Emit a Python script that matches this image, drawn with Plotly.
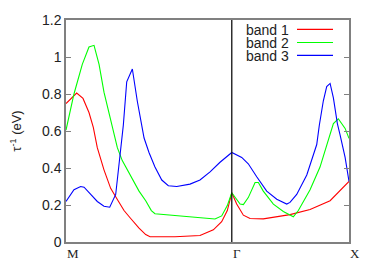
import plotly.graph_objects as go

# k-path coordinate: M=0, Gamma=sqrt(2), X=1+sqrt(2)
tick_vals = [0.0, 1.4142, 2.4142]
tick_text = ["M", "Γ", "X"]

band1_k = [0.0, 0.091, 0.145, 0.196, 0.233, 0.267, 0.324, 0.381, 0.438, 0.495, 0.552, 0.623, 0.680, 0.717,
           0.930, 1.143, 1.257, 1.328, 1.376, 1.4142, 1.456, 1.513, 1.570, 1.683, 1.911, 2.082, 2.253, 2.338, 2.4142]
band1_v = [0.748, 0.805, 0.776, 0.70, 0.62, 0.51, 0.39, 0.29, 0.23, 0.17, 0.127, 0.075, 0.04, 0.028,
           0.028, 0.035, 0.066, 0.11, 0.17, 0.266, 0.205, 0.145, 0.127, 0.125, 0.148, 0.176, 0.223, 0.275, 0.327]

band2_k = [0.0, 0.068, 0.139, 0.196, 0.239, 0.282, 0.324, 0.367, 0.395, 0.438, 0.480, 0.552, 0.623, 0.680,
           0.728, 0.759, 1.001, 1.271, 1.328, 1.376, 1.4142, 1.485, 1.513, 1.555, 1.613, 1.641, 1.683, 1.769,
           1.854, 1.911, 1.939, 1.982, 2.082, 2.167, 2.224, 2.281, 2.323, 2.381, 2.4142]
band2_v = [0.605, 0.80, 0.96, 1.054, 1.063, 0.96, 0.81, 0.69, 0.614, 0.51, 0.44, 0.353, 0.275, 0.223,
           0.17, 0.153, 0.139, 0.124, 0.141, 0.197, 0.266, 0.205, 0.202, 0.24, 0.322, 0.322, 0.275, 0.205,
           0.165, 0.145, 0.136, 0.17, 0.283, 0.405, 0.527, 0.64, 0.666, 0.614, 0.56]

band3_k = [0.0, 0.068, 0.125, 0.154, 0.211, 0.267, 0.324, 0.373, 0.424, 0.452, 0.472, 0.489, 0.518, 0.566,
           0.608, 0.651, 0.666, 0.708, 0.759, 0.817, 0.873, 0.945, 1.058, 1.143, 1.229, 1.314, 1.4142, 1.499,
           1.555, 1.627, 1.712, 1.798, 1.883, 1.911, 1.968, 2.054, 2.139, 2.161, 2.195, 2.224, 2.253, 2.281,
           2.315, 2.338, 2.381, 2.4142]
band3_v = [0.219, 0.283, 0.30, 0.296, 0.257, 0.219, 0.193, 0.188, 0.257, 0.405, 0.527, 0.631, 0.866, 0.935,
           0.762, 0.605, 0.562, 0.484, 0.405, 0.335, 0.304, 0.30, 0.313, 0.335, 0.379, 0.431, 0.484, 0.457,
           0.423, 0.353, 0.275, 0.231, 0.205, 0.214, 0.257, 0.362, 0.527, 0.631, 0.762, 0.84, 0.857, 0.779,
           0.64, 0.579, 0.457, 0.327]

names = ["band 1", "band 2", "band 3"]
colors = ["#ff0000", "#00ff00", "#0000ff"]
series = [(band1_k, band1_v), (band2_k, band2_v), (band3_k, band3_v)]

fig = go.Figure()
for (k, v), n, c in zip(series, names, colors):
    fig.add_trace(go.Scatter(x=k, y=v, mode="lines", name=n, line=dict(color=c, width=1.1),
                             showlegend=False, hoverinfo="skip"))

W, H = 374, 262
ml, mr, mt, mb = 66, 25, 16, 16
pw, ph = W - ml - mr, H - mt - mb

fig.update_layout(
    width=W, height=H,
    margin=dict(l=ml, r=mr, t=mt, b=mb),
    plot_bgcolor="white", paper_bgcolor="white",
    font=dict(family="Liberation Sans, Arial", size=14, color="#222"),
    xaxis=dict(range=[tick_vals[0], tick_vals[-1]], showticklabels=False, ticks="",
               showgrid=False, zeroline=False, showline=True, linecolor="#808080",
               linewidth=1.5, mirror=True),
    yaxis=dict(range=[0, 1.2], tickvals=[0, 0.2, 0.4, 0.6, 0.8, 1.0, 1.2],
               ticktext=["0", "0.2", "0.4", "0.6", "0.8", "1", "1.2"],
               ticks="inside", ticklen=5, tickcolor="#808080", tickwidth=1,
               showgrid=False, zeroline=False, showline=True, linecolor="#808080",
               linewidth=1.5, mirror="ticks",
               title=dict(text="τ<sup>-1</sup> (eV)", font=dict(size=13), standoff=17)),
)

# Gamma vertical line
fig.add_shape(type="line", x0=tick_vals[1], x1=tick_vals[1], y0=0, y1=1, xref="x", yref="paper",
              line=dict(color="#111", width=1.3))

# x tick labels (left-aligned at tick, serif)
for tv, tt in zip(tick_vals, tick_text):
    fig.add_annotation(x=tv, y=0, xref="x", yref="paper", text=tt, showarrow=False,
                       xanchor="left", yanchor="top", yshift=-2, xshift=-1,
                       font=dict(family="Liberation Serif, Times New Roman", size=13, color="#222"))

# legend: text right-aligned, line sample to the right
row_y = [25.7, 39.3, 52.7]
for n, c, ry in zip(names, colors, row_y):
    yp = 1 - (ry - mt) / ph
    fig.add_annotation(x=(290 - ml) / pw, y=yp, xref="paper", yref="paper", text=n, showarrow=False,
                       xanchor="right", yanchor="middle", borderpad=0, height=13,
                       font=dict(size=14, color="#222"))
    fig.add_shape(type="line", x0=(297 - ml) / pw, x1=(333 - ml) / pw, y0=yp, y1=yp,
                  xref="paper", yref="paper", line=dict(color=c, width=1.1))

fig.write_html("out.html", config={"displayModeBar": False},
               post_script="document.body.style.margin='0';document.body.style.overflow='hidden';")
